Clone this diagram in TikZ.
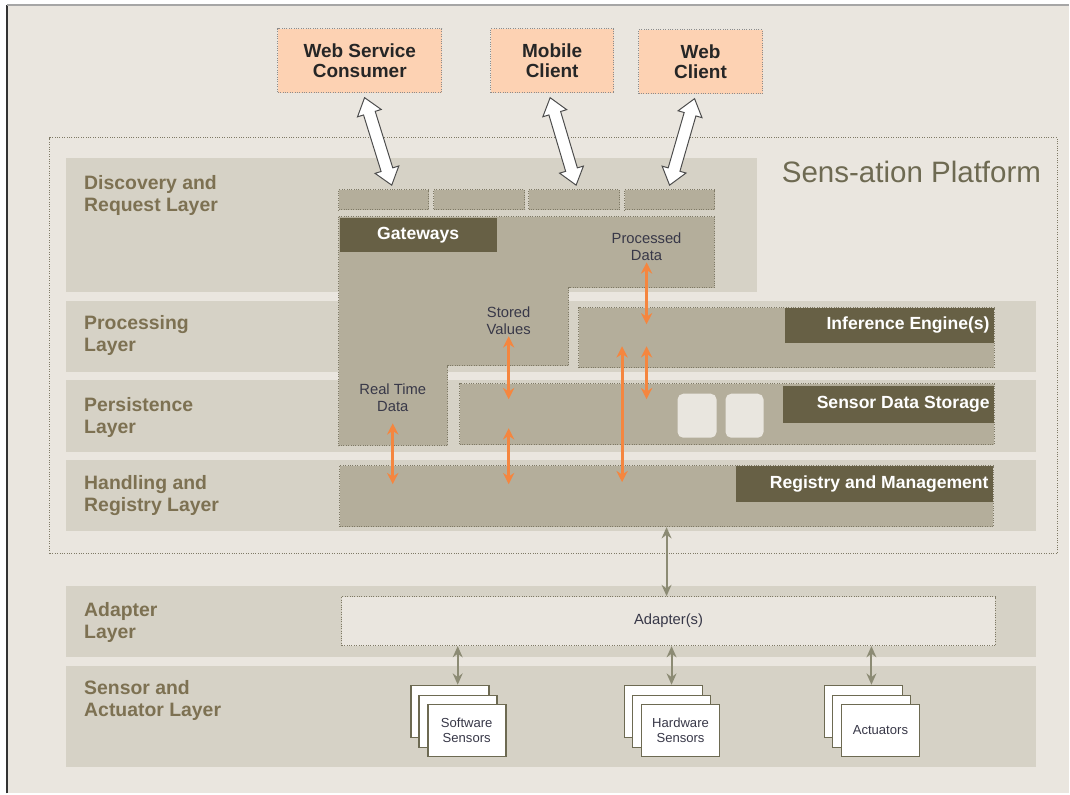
\documentclass[tikz,border=0pt]{standalone}
\usepackage{fontspec}
\setmainfont{Liberation Sans}
\usetikzlibrary{arrows.meta,calc,fit,shapes.arrows}

\definecolor{pagebg}{HTML}{EAE6DF}
\definecolor{bandc}{HTML}{D6D2C6}
\definecolor{boxc}{HTML}{B4AE9B}
\definecolor{edgec}{HTML}{7F7A66}
\definecolor{tagc}{HTML}{676045}
\definecolor{layertxt}{HTML}{7D7152}
\definecolor{platformtxt}{HTML}{6E6A52}
\definecolor{orangec}{HTML}{F5863F}
\definecolor{clientc}{HTML}{FDD2B3}
\definecolor{greyc}{HTML}{8C8B74}
\definecolor{notetxt}{HTML}{383848}
\definecolor{cylc}{HTML}{E9E6DF}
\definecolor{cardc}{HTML}{6D6A52}

\tikzset{
  band/.style={fill=bandc,inner sep=0pt},
  box/.style={fill=boxc,draw=edgec,densely dotted,line width=0.7pt,inner sep=0pt},
  tag/.style={fill=tagc,inner sep=0pt},
  tagtext/.style={text=white,font=\fontsize{12.5}{14}\selectfont\bfseries,anchor=east,inner sep=0pt},
  layerlbl/.style={text=layertxt,font=\fontsize{13.8}{15.5}\selectfont\bfseries,align=left,anchor=west,inner sep=0pt},
  notetext/.style={text=notetxt,font=\fontsize{10.5}{12}\selectfont,align=center,inner sep=1pt},
  client/.style={fill=clientc,draw=black!45,densely dotted,line width=0.7pt,minimum height=1.6cm,
    font=\fontsize{13.5}{14.5}\selectfont\bfseries,text=black!85,align=center},
  card/.style={fill=white,draw=cardc,line width=1.2pt,minimum width=1.95cm,minimum height=1.3cm,
    font=\fontsize{9.3}{10.5}\selectfont,text=notetxt,align=center},
  dbcyl/.style={fill=cylc,rounded corners=4pt,inner sep=0pt},
  oarr/.style={draw=orangec,line width=2pt,{Stealth[length=8pt,width=8pt]}-{Stealth[length=8pt,width=8pt]}},
  garr/.style={draw=greyc,line width=1.4pt,{Stealth[length=8pt,width=7pt]}-{Stealth[length=8pt,width=7pt]}},
  fatarrow/.style={double arrow,draw=black!70,fill=white,line width=0.7pt,inner sep=4pt,
    double arrow head extend=4.5pt,double arrow tip angle=75}
}

\begin{document}
\begin{tikzpicture}[x=0.025cm,y=-0.025cm]
  % page
  \fill[white] (0,0) rectangle (1070,794);
  \fill[pagebg] (7,5) rectangle (1070,794);
  \draw[black!80,line width=1pt] (7,794) -- (7,5);
  \draw[black!35,line width=1pt] (7,5) -- (1070,5);

  % clients
  \node[client,minimum width=4.1cm] (wsc) at (360,61) {Web Service\\Consumer};
  \node[client,minimum width=3.075cm] (mob) at (552.5,61) {Mobile\\Client};
  \node[client,minimum width=3.1cm] (web) at (701,62) {Web\\Client};

  % platform and layers
  \node[draw=edgec,densely dotted,line width=0.7pt,inner sep=0pt,fit={(50,138) (1058,554)}] (platform) {};
  \node[text=platformtxt,font=\fontsize{21}{24}\selectfont,anchor=east,inner sep=0pt] (ptitle) at (1042,172) {Sens-ation Platform};

  \node[band,fit={(66,158) (757,292)}] (disc) {};
  \node[band,fit={(66,301) (1037,372)}] (proc) {};
  \node[band,fit={(66,380) (1037,452)}] (pers) {};
  \node[band,fit={(66,460) (1037,531)}] (hand) {};
  \node[band,fit={(66,586) (1037,657)}] (adapt) {};
  \node[band,fit={(66,666) (1037,767)}] (sens) {};

  \node[layerlbl] (ldisc) at (84,196) {Discovery and\\Request Layer};
  \node[layerlbl] (lproc) at (84,336) {Processing\\Layer};
  \node[layerlbl] (lpers) at (84,418) {Persistence\\Layer};
  \node[layerlbl] (lhand) at (84,496) {Handling and\\Registry Layer};
  \node[layerlbl] (ladapt) at (84,623) {Adapter\\Layer};
  \node[layerlbl] (lsens) at (84,701) {Sensor and\\Actuator Layer};

  % gateways
  \foreach \i/\a/\b in {1/339/429,2/434/525,3/529/620,4/625/715}
    \node[box,fit={(\a,190) (\b,210)}] (tab\i) {};
  \draw[box] (339,217) -- (715,217) -- (715,288) -- (569,288) -- (569,366)
    -- (448,366) -- (448,446) -- (339,446) -- cycle;
  \node[tag,fit={(340,218) (497,252)}] (gwtag) {};
  \node[tagtext,anchor=center] at (gwtag) {Gateways};
  \node[notetext] (procd) at (647,247) {Processed\\Data};
  \node[notetext] (stored) at (509,321) {Stored\\Values};
  \node[notetext] (rtd) at (393,398) {Real Time\\Data};

  \foreach \src/\dst/\sx/\dx in {wsc/tab1/0.12/0.2,mob/tab3/-0.05/0.05,web/tab4/-0.15/0}
    \path let \p1=([xshift=\sx cm,yshift=-3pt]\src.south), \p2=([xshift=\dx cm,yshift=3pt]\dst.north),
      \n1={atan2(\y2-\y1,\x2-\x1)}, \n2={veclen(\x2-\x1,\y2-\y1)} in
      node[fatarrow,minimum height=\n2,rotate=\n1] at ($(\p1)!0.5!(\p2)$) {};

  % processing, persistence, registry
  \node[box,fit={(579,308) (995,368)}] (ie) {};
  \node[tag,fit={(786,308) (995,343)}] (ietag) {};
  \node[tagtext] at ([xshift=-0.12cm]ietag.east) {Inference Engine(s)};

  \node[box,fit={(460,384) (995,445)}] (sds) {};
  \node[tag,fit={(784,386) (995,423)}] (sdstag) {};
  \node[tagtext] at ([xshift=-0.12cm]sdstag.east) {Sensor Data Storage};
  \node[dbcyl,fit={(678,394) (717,438)}] (db1) {};
  \node[dbcyl,fit={(726,394) (764,438)}] (db2) {};

  \node[box,fit={(340,466) (994,527)}] (reg) {};
  \node[tag,fit={(736,466) (994,502)}] (regtag) {};
  \node[tagtext] at ([xshift=-0.12cm]regtag.east) {Registry and Management};

  \draw[oarr] (procd.south) -- ($(procd.south |- ie.north)+(0,17)$);
  \draw[oarr] ($(procd.south |- ie.south)+(0,-22)$) -- ($(procd.south |- sds.north)+(0,16)$);
  \draw[oarr] ($(ie.south west)+(44,-22)$) -- ($(ie.south west |- reg.north)+(44,17)$);
  \draw[oarr] (stored.south) -- ($(stored.south |- sds.north)+(0,16)$);
  \draw[oarr] ($(stored.south |- sds.south)+(0,-17)$) -- ($(stored.south |- reg.north)+(0,19)$);
  \draw[oarr] ($(rtd.south)+(0,10)$) -- ($(rtd.south |- reg.north)+(0,19)$);

  % adapters and devices
  \node[draw=edgec,densely dotted,line width=0.7pt,fill=pagebg,fit={(342,597) (996,646)},inner sep=0pt] (adp) {};
  \node[notetext] at (adp) {Adapter(s)};

  \foreach \nm/\cx/\txt in {sw/450/{Software\\Sensors},hw/664/{Hardware\\Sensors},ac/864/{Actuators}} {
    \node[card] (\nm1) at (\cx,712) {};
    \node[card] (\nm2) at (\cx+8,722) {};
    \node[card] (\nm3) at (\cx+17,731) {\txt};
    \draw[garr] (adp.south -| \nm2.north) -- (\nm2.north |- \nm1.north);
  }
  \draw[garr] (reg.south) -- (reg.south |- adp.north);
\end{tikzpicture}
\end{document}
